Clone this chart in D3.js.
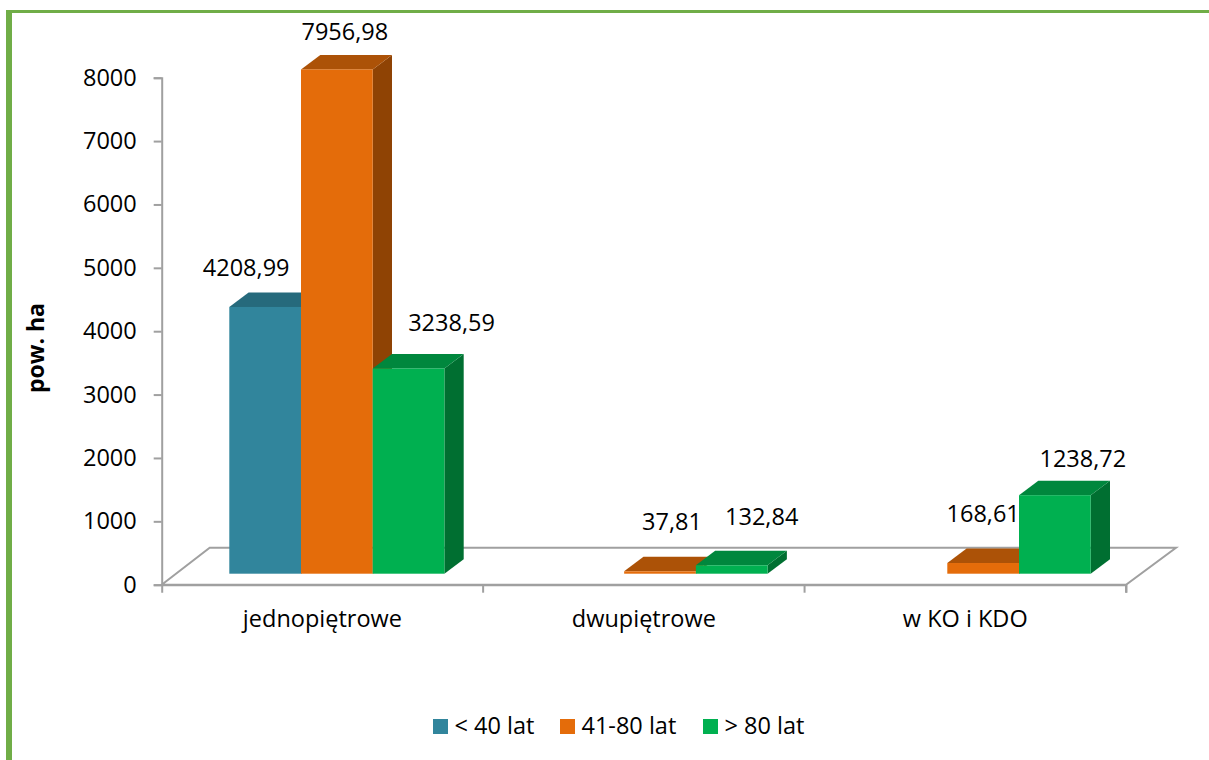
<!DOCTYPE html>
<html><head><meta charset="utf-8">
<script src="https://cdn.jsdelivr.net/npm/d3@7"></script>
<style>html,body{margin:0;padding:0;background:#fff}svg{display:block}text{font-family:"Open Sans",sans-serif;fill:#000}</style>
</head><body><svg id="c" width="1209" height="760"></svg>
<script>
const categories = ["jednopiętrowe", "dwupiętrowe", "w KO i KDO"];
const seriesNames = ["< 40 lat", "41-80 lat", "> 80 lat"];
const under40 = [4208.99, null, null];
const from41to80 = [7956.98, 37.81, 168.61];
const over80 = [3238.59, 132.84, 1238.72];
const seriesValues = [under40, from41to80, over80];
const valueLabels = [["4208,99", null, null], ["7956,98", "37,81", "168,61"], ["3238,59", "132,84", "1238,72"]];
const yTicks = [0, 1000, 2000, 3000, 4000, 5000, 6000, 7000, 8000];

const frontColors = ["#31859c", "#e46c0a", "#00b050"];
const topColors = ["#266a7c", "#ac5207", "#00873d"];
const sideColors = ["#1f5766", "#8f4304", "#006f31"];
const labelOffsets = [
  [[-19, -31], null, null],
  [[8, -29], [12, -41], [0, -41]],
  [[43, -37], [30, -40], [28, -28]]
];

const svg = d3.select("#c");
const depthX = 19.3, depthY = 14.5;
const floorY = 584.7, baseY = 573.7;
const yAxis = d3.scaleLinear().domain([0, 8000]).range([floorY, 77.7]);
const yBar = d3.scaleLinear().domain([0, 8000]).range([baseY, baseY - (floorY - 77.7)]);
const xCat = d3.scaleBand().domain(categories).range([161.7, 1126]);
const xBarGroup = d3.scalePoint().domain(categories).range([229.3, 875.6]);
const barW = 71.7;
const xSeries = d3.scaleBand().domain(seriesNames).range([0, barW * 3]);
const fontSize = 23.5;

// frame
const frameGreen = "#70ad47";
svg.append("rect").attr("x", 6).attr("y", 10).attr("width", 1203).attr("height", 3).attr("fill", frameGreen);
svg.append("rect").attr("x", 6).attr("y", 10).attr("width", 6).attr("height", 750).attr("fill", frameGreen);

// floor
const axisGray = "#a0a0a0";
const [x0, x1] = xCat.range();
svg.append("path")
  .attr("d", `M${x0},${floorY}L${x0 + 48},${floorY - 37}L${x1 + 50},${floorY - 37}L${x1},${floorY}Z`)
  .attr("fill", "#fff").attr("stroke", axisGray).attr("stroke-width", 2);

// y axis
const gy = svg.append("g").attr("transform", `translate(${x0},0)`)
  .call(d3.axisLeft(yAxis).tickValues(yTicks).tickFormat(d3.format("d")).tickSize(8).tickPadding(17));
gy.selectAll("path,line").attr("stroke", axisGray).attr("stroke-width", 2);
gy.selectAll("text").attr("font-size", fontSize).style("font-family", "Open Sans").attr("fill", "#000");

// x axis
const gx = svg.append("g").attr("transform", `translate(0,${floorY})`)
  .call(d3.axisBottom(xCat).tickSize(8).tickPadding(17.5).tickSizeOuter(8));
gx.selectAll(".tick line").attr("x1", xCat.bandwidth() / 2).attr("x2", xCat.bandwidth() / 2)
  .attr("stroke", axisGray).attr("stroke-width", 2);
gx.select("path").attr("stroke", axisGray).attr("stroke-width", 2);
gx.selectAll("text").attr("font-size", fontSize).style("font-family", "Open Sans").attr("fill", "#000");

// bars
seriesNames.forEach((name, s) => {
  categories.forEach((cat, c) => {
    const v = seriesValues[s][c];
    if (v == null) return;
    const xl = xBarGroup(cat) + xSeries(name), xr = xl + barW, yt = yBar(v), yb = yBar(0);
    const g = svg.append("g");
    g.append("path").attr("fill", sideColors[s])
      .attr("d", `M${xr},${yt}L${xr + depthX},${yt - depthY}L${xr + depthX},${yb - depthY}L${xr},${yb}Z`);
    g.append("path").attr("fill", topColors[s])
      .attr("d", `M${xl},${yt}L${xl + depthX},${yt - depthY}L${xr + depthX},${yt - depthY}L${xr},${yt}Z`);
    g.append("rect").attr("x", xl).attr("y", yt).attr("width", barW).attr("height", yb - yt).attr("fill", frontColors[s]);
  });
});

// value labels
seriesNames.forEach((name, s) => {
  categories.forEach((cat, c) => {
    const t = valueLabels[s][c];
    if (t == null) return;
    const [dx, dy] = labelOffsets[s][c];
    svg.append("text").attr("text-anchor", "middle").attr("font-size", fontSize)
      .attr("x", xBarGroup(cat) + xSeries(name) + barW / 2 + dx)
      .attr("y", yBar(seriesValues[s][c]) + dy)
      .text(t);
  });
});

// y title
svg.append("text").attr("transform", "translate(43.5,348) rotate(-90)").attr("text-anchor", "middle")
  .attr("font-size", 23).attr("font-weight", 700).text("pow. ha");

// legend
const legendX = [433, 560, 703];
seriesNames.forEach((name, s) => {
  svg.append("rect").attr("x", legendX[s]).attr("y", 719).attr("width", 15).attr("height", 15).attr("fill", frontColors[s]);
  svg.append("text").attr("x", legendX[s] + 21.5).attr("y", 733.5).attr("font-size", fontSize).text(name);
});
</script></body></html>
